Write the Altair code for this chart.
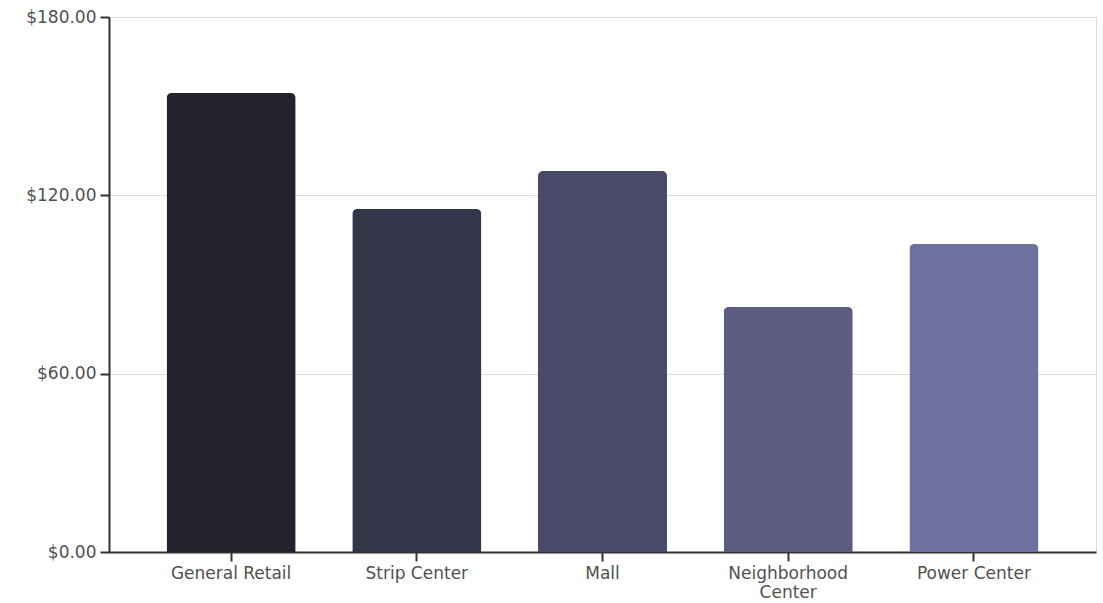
import altair as alt
import pandas as pd

# Average asking rent by retail property type
categories = ["General Retail", "Strip Center", "Mall", "Neighborhood Center", "Power Center"]
rents = [154.4, 115.4, 128.2, 82.4, 103.6]
colors = ["#22222f", "#35354a", "#494a67", "#5c5b81", "#6e709d"]

df = pd.DataFrame({"type": categories, "rent": rents})

font = "DejaVu Sans"
label_size = 17
label_color = "#505050"

chart = (
    alt.Chart(df)
    .mark_bar(cornerRadiusTopLeft=5, cornerRadiusTopRight=5)
    .encode(
        x=alt.X(
            "type:N",
            sort=categories,
            title=None,
            scale=alt.Scale(paddingInner=0.305, paddingOuter=0.31),
            axis=alt.Axis(
                labelAngle=0,
                labelFont=font,
                labelFontSize=label_size,
                labelColor=label_color,
                labelPadding=4,
                labelLineHeight=19,
                labelExpr="datum.label == 'Neighborhood Center' ? ['Neighborhood', 'Center'] : datum.label",
                domainColor="#333333",
                domainWidth=2,
                tickColor="#333333",
                tickWidth=2,
                tickSize=9,
                grid=False,
            ),
        ),
        y=alt.Y(
            "rent:Q",
            title=None,
            scale=alt.Scale(domain=[0, 180], nice=False),
            axis=alt.Axis(
                values=[0, 60, 120, 180],
                format="$,.2f",
                labelFont=font,
                labelFontSize=label_size,
                labelColor=label_color,
                labelPadding=4,
                domainColor="#333333",
                domainWidth=2,
                tickColor="#333333",
                tickWidth=2,
                tickSize=9,
                grid=True,
                gridColor="#dddddd",
                gridWidth=1,
            ),
        ),
        color=alt.Color(
            "type:N",
            sort=categories,
            scale=alt.Scale(domain=categories, range=colors),
            legend=None,
        ),
    )
    .properties(
        width=987,
        height=535,
        autosize=alt.AutoSizeParams(type="none"),
        padding={"left": 109, "top": 17, "right": 7, "bottom": 51},
    )
    .configure_view(stroke=None)
    .configure(background="white")
)

chart.save("out.html", embed_options={"renderer": "svg", "actions": False})
